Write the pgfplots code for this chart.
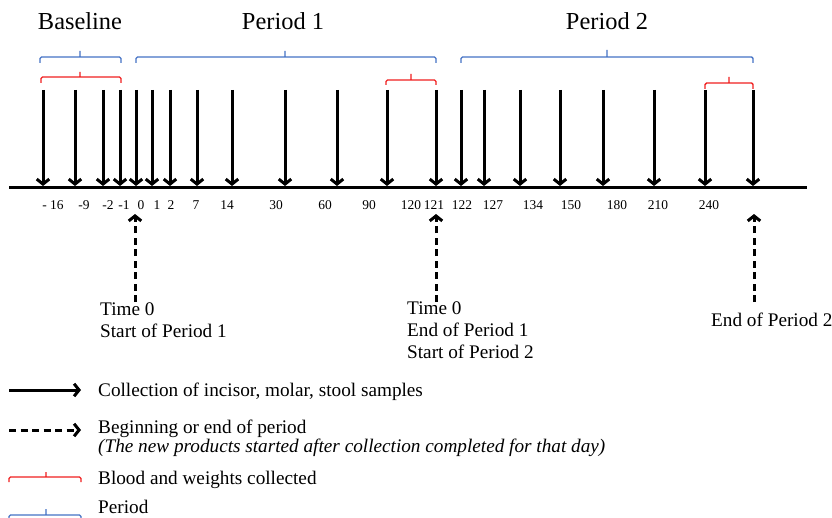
\documentclass[border=0pt]{standalone}
\usepackage{pgfplots}
\pgfplotsset{compat=1.18}
\usepackage{pgfplotstable}
\usetikzlibrary{arrows.meta}
\usepackage{fontspec}
\setmainfont{Liberation Serif}
\definecolor{pblue}{RGB}{68,114,196}
\definecolor{pred}{RGB}{240,30,30}
\newcommand\ttlfont{\fontsize{24.5}{28}\selectfont}
\newcommand\txtfont{\fontsize{19.3}{22}\selectfont}
\newcommand\tickfont{\fontsize{13.5}{16}\selectfont}
\tikzset{arr/.style={-{Straight Barb[length=5bp,width=12.5bp]}}}

% collection arrows: x position, top y, length
\pgfplotstableread{
x y v
43 90 96
75 90 96
103 90 96
120 90 96
136 90 96
152 90 96
170 90 96
197 90 96
232 90 96
285 90 96
337 90 96
387 90 96
436 90 96
461 90 96
484 90 96
520 90 96
560 90 96
603 90 96
654 90 96
705 90 96
753 90 96
}\collect

% beginning / end of period arrows
\pgfplotstableread{
x y v
135 302 -88
436 302 -88
754 302 -88
}\periodarrows

% day labels
\pgfplotstableread[col sep=comma]{
x,y,lab
53,209,- 16
84,209,-9
108,209,-2
124,209,-1
141,209,0
157,209,1
171,209,2
196,209,7
227,209,14
276,209,30
325,209,60
369,209,90
411,209,120
434,209,121
462,209,122
493,209,127
533,209,134
571,209,150
617,209,180
658,209,210
709,209,240
}\days

% period brackets (blue)
\pgfplotstableread{
x y
40 63
40 57
121 57
121 63
nan nan
80 57
80 51
nan nan
136 63
136 57
436 57
436 63
nan nan
285 57
285 51
nan nan
461 63
461 57
753 57
753 63
nan nan
607 57
607 50
nan nan
9 521
9 515
81 515
81 521
nan nan
46 515
46 509
}\bluebr

% blood and weights brackets (red)
\pgfplotstableread{
x y
41 83
41 77
121 77
121 83
nan nan
80 77
80 72
nan nan
386 85
386 80
436 80
436 85
nan nan
411 80
411 74
nan nan
705 89
705 83
753 83
753 89
nan nan
729 83
729 77
nan nan
9 482
9 477
81 477
81 482
nan nan
46 477
46 472
}\redbr

\begin{document}
\begin{tikzpicture}
\begin{axis}[
  at={(0,0)}, anchor=south west,
  width=832bp, height=518bp, scale only axis,
  xmin=0, xmax=832, ymin=0, ymax=518,
  y dir=reverse, hide axis, clip=false,
  unbounded coords=jump,
]
% time axis line
\addplot[black, line width=3.2bp] coordinates {(9,187.5) (807,187.5)};
% collection arrows
\addplot[black, line width=3bp, arr,
  quiver={u=0, v=\thisrow{v}}] table[x=x,y=y] {\collect};
% period arrows (dashed)
\addplot[black, line width=3bp, dash pattern=on 7bp off 4.5bp, arr,
  quiver={u=0, v=\thisrow{v}}] table[x=x,y=y] {\periodarrows};
% day labels
\addplot[only marks, mark=none, nodes near coords, point meta=explicit symbolic,
  every node near coord/.append style={anchor=base, inner sep=0pt, font=\tickfont, text=black}]
  table[x=x, y=y, meta=lab] {\days};
% brackets
\addplot[pblue, line width=1.4bp, rounded corners=1.5bp] table {\bluebr};
\addplot[pred, line width=1.4bp, rounded corners=1.5bp] table {\redbr};
% legend arrows
\addplot[black, line width=3bp, arr,
  quiver={u=72, v=0}] coordinates {(9,390)};
\addplot[black, line width=3bp, dash pattern=on 7bp off 4.5bp, arr,
  quiver={u=72, v=0}] coordinates {(9,430)};

% titles
\node[anchor=base, inner sep=0pt, font=\ttlfont] at (axis cs:80,30) {Baseline};
\node[anchor=base, inner sep=0pt, font=\ttlfont] at (axis cs:283,30) {Period 1};
\node[anchor=base, inner sep=0pt, font=\ttlfont] at (axis cs:607,30) {Period 2};
% annotations
\node[anchor=base west, inner sep=0pt, font=\txtfont] at (axis cs:100,315) {Time 0};
\node[anchor=base west, inner sep=0pt, font=\txtfont] at (axis cs:100,337) {Start of Period 1};
\node[anchor=base west, inner sep=0pt, font=\txtfont] at (axis cs:407,314) {Time 0};
\node[anchor=base west, inner sep=0pt, font=\txtfont] at (axis cs:407,336) {End of Period 1};
\node[anchor=base west, inner sep=0pt, font=\txtfont] at (axis cs:407,358) {Start of Period 2};
\node[anchor=base west, inner sep=0pt, font=\txtfont] at (axis cs:711,326) {End of Period 2};
% legend text
\node[anchor=base west, inner sep=0pt, font=\txtfont] at (axis cs:98,396) {Collection of incisor, molar, stool samples};
\node[anchor=base west, inner sep=0pt, font=\txtfont] at (axis cs:98,433) {Beginning or end of period};
\node[anchor=base west, inner sep=0pt, font=\txtfont\itshape] at (axis cs:98,452) {(The new products started after collection completed for that day)};
\node[anchor=base west, inner sep=0pt, font=\txtfont] at (axis cs:98,484) {Blood and weights collected};
\node[anchor=base west, inner sep=0pt, font=\txtfont] at (axis cs:98,513) {Period};
\end{axis}
\pgfresetboundingbox
\path[use as bounding box] (0,0) rectangle (832bp,518bp);
\end{tikzpicture}
\end{document}
